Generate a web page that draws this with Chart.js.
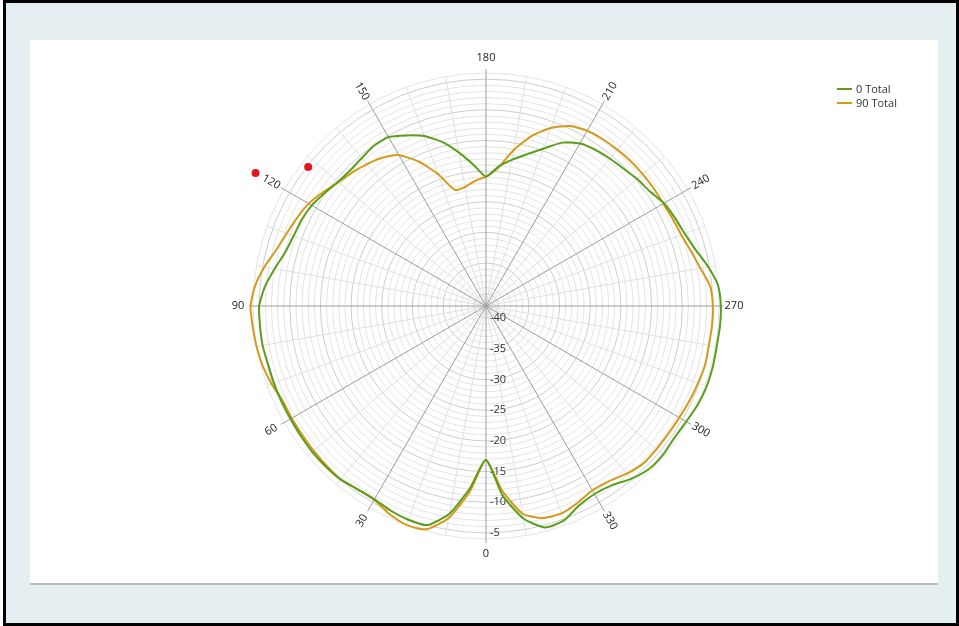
<!DOCTYPE html>
<html><head><meta charset="utf-8">
<script src="https://cdn.jsdelivr.net/npm/chart.js@4.4.0/dist/chart.umd.min.js"></script>
<style>
html,body{margin:0;padding:0;background:#fff;}
body{width:959px;height:626px;position:relative;overflow:hidden;font-family:"Open Sans",sans-serif;}
#frame{position:absolute;left:3px;top:0;width:950px;height:620px;border:3px solid #000;background:#e5eef1;}
#panel{position:absolute;left:30px;top:40px;width:908px;height:543px;background:#fff;border-bottom:2px solid #bbbbbb;}
#c{position:absolute;left:0;top:0;}
#legend{position:absolute;left:837px;top:82px;font-size:11px;color:#333;line-height:14px;}
.item{display:flex;align-items:center;height:14px;white-space:nowrap;}
.sw{width:15px;height:2px;margin-right:4px;}
</style></head><body>
<div id="frame"></div><div id="panel"></div>
<canvas id="c" width="959" height="626"></canvas>
<div id="legend"></div>
<script>
// ---- data (angle in degrees, value in dB) ----
const sampleStep = 5; // series sampled every 5 degrees, starting at 0
const seriesNames = ['0 Total', '90 Total'];
const seriesColors = ['#5a9e1c', '#d49a1a'];
const series0Total = [
  -16.9,-12.2,-7.6,-5.0,-4.9,-5.2,-5.6,-5.5,-5.1,-5.0,-5.0,-5.1,
  -5.2,-5.2,-5.2,-5.2,-5.0,-5.0,-5.0,-5.8,-7.0,-8.1,-8.6,-8.8,
  -9.2,-9.9,-10.5,-10.7,-10.5,-10.1,-10.2,-11.3,-12.5,-14.3,-16.6,-18.9,
  -20.9,-19.2,-17.8,-16.4,-14.7,-12.6,-11.4,-10.9,-10.6,-10.3,-9.8,-9.4,
  -8.5,-8.0,-7.5,-6.6,-5.2,-4.0,-3.7,-3.7,-3.8,-3.7,-3.7,-3.9,
  -4.3,-4.5,-4.3,-4.4,-5.2,-6.3,-6.6,-6.1,-4.8,-4.6,-6.8,-11.0
];
const series90Total = [
  -16.9,-11.6,-6.9,-4.3,-4.0,-4.6,-5.5,-5.5,-5.1,-5.2,-5.3,-5.4,
  -5.4,-5.4,-4.8,-4.3,-4.0,-3.8,-3.6,-4.2,-5.3,-6.6,-7.4,-8.0,
  -8.6,-9.6,-10.6,-11.2,-11.8,-12.5,-13.6,-16.0,-19.1,-22.4,-22.3,-21.5,
  -20.9,-19.4,-16.2,-13.3,-11.1,-9.6,-9.0,-8.8,-8.7,-8.6,-8.6,-8.6,
  -8.6,-8.4,-8.1,-7.4,-6.5,-5.3,-5.0,-5.0,-5.1,-5.0,-5.2,-5.4,
  -5.6,-5.7,-5.7,-5.7,-6.3,-7.1,-7.3,-6.6,-6.0,-6.2,-7.6,-11.8
];
const markerAngles = [120, 128];
const markerValues = [1.4, -5.2];
const angleTickLabels = [0,30,60,90,120,150,180,210,240,270,300,330];
const radialTickLabels = [-40,-35,-30,-25,-20,-15,-10,-5];
const radialMin = -42, radialMax = -4;

// ---- build library tables ----
const labels = Array.from({length:360}, (_, i) => String(i));
function expand(arr){
  const out = new Array(360).fill(null);
  arr.forEach((v, k) => { out[k * sampleStep] = v; });
  return out;
}
const markerData = new Array(360).fill(null);
markerAngles.forEach((a, k) => { markerData[a] = markerValues[k]; });

const FONT = '11px "Open Sans", sans-serif';
const axisPlugin = {
  id: 'polarAxes',
  beforeDatasetsDraw(chart){
    const s = chart.scales.r, ctx = chart.ctx;
    ctx.save();
    ctx.strokeStyle = '#9c9c9c'; ctx.lineWidth = 1;
    angleTickLabels.forEach(a => {
      const p = s.getPointPosition(a, s.drawingArea + 4);
      ctx.beginPath(); ctx.moveTo(s.xCenter, s.yCenter); ctx.lineTo(p.x, p.y); ctx.stroke();
    });
    ctx.fillStyle = '#333'; ctx.font = FONT; ctx.textAlign = 'left'; ctx.textBaseline = 'middle';
    radialTickLabels.forEach(v => {
      const d = s.getDistanceFromCenterForValue(v);
      ctx.fillText(String(v), s.xCenter + 4, s.yCenter + d);
    });
    ctx.fillStyle = '#222'; ctx.textAlign = 'center';
    angleTickLabels.forEach(a => {
      const p = s.getPointPosition(a, s.drawingArea + 15);
      const dx = p.x - s.xCenter, dy = p.y - s.yCenter;
      let rot = 0;
      if (dx > 1) rot = Math.atan2(dy, dx);
      else if (dx < -1) rot = Math.atan2(-dy, -dx);
      ctx.save(); ctx.translate(p.x, p.y); ctx.rotate(rot);
      ctx.fillText(String(a), 0, 0);
      ctx.restore();
    });
    ctx.restore();
  }
};

new Chart(document.getElementById('c'), {
  type: 'radar',
  data: {
    labels,
    datasets: [
      {label: seriesNames[0], data: expand(series0Total), borderColor: seriesColors[0], borderWidth: 2,
       pointRadius: 0, fill: false, spanGaps: true, tension: 0.2, clip: false},
      {label: seriesNames[1], data: expand(series90Total), borderColor: seriesColors[1], borderWidth: 2,
       pointRadius: 0, fill: false, spanGaps: true, tension: 0.2, clip: false},
      {label: 'markers', data: markerData, showLine: false, borderWidth: 0, fill: false,
       pointRadius: 4, pointBackgroundColor: '#e3161c', pointBorderWidth: 0, clip: false}
    ]
  },
  options: {
    responsive: false, animation: false, events: [],
    layout: {padding: {left: 253, right: 240, top: 73, bottom: 87}},
    plugins: {legend: {display: false}, tooltip: {enabled: false}},
    scales: {
      r: {
        min: radialMin, max: radialMax, startAngle: 180,
        ticks: {display: false, stepSize: 1},
        pointLabels: {display: false},
        grid: {circular: true, lineWidth: 1,
          color: c => (c.tick && c.tick.value % 5 === 0) ? '#cdcdcd' : '#e4e4e4'},
        angleLines: {
          color: c => (c.index % 10 === 0 && c.index % 30 !== 0) ? '#e0e0e0' : 'rgba(0,0,0,0)',
          lineWidth: c => (c.index % 10 === 0 && c.index % 30 !== 0) ? 1 : 0
        }
      }
    }
  },
  plugins: [axisPlugin]
});

// legend (HTML text)
const lg = document.getElementById('legend');
seriesNames.forEach((n, i) => {
  const d = document.createElement('div'); d.className = 'item';
  const sw = document.createElement('span'); sw.className = 'sw'; sw.style.background = seriesColors[i];
  const t = document.createElement('span'); t.textContent = n;
  d.appendChild(sw); d.appendChild(t); lg.appendChild(d);
});
</script></body></html>
